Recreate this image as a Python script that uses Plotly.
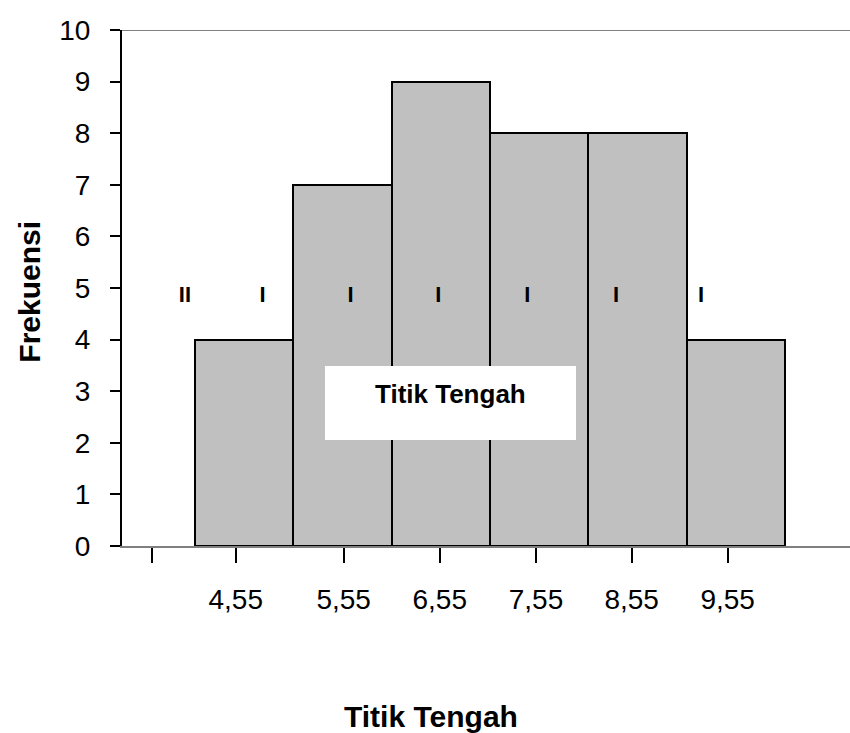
import plotly.graph_objects as go

# ---- data ----
bar_pos = [1, 2, 3, 4, 5, 6]
frekuensi = [4, 7, 9, 8, 8, 4]

tick_pos = [0.06, 0.914, 2.012, 2.989, 3.968, 4.941, 5.917]
tick_text = ["", "4,55", "5,55", "6,55", "7,55", "8,55", "9,55"]

mark_pos = [0.398, 1.188, 2.083, 2.974, 3.879, 4.781, 5.646]
mark_val = [4.83, 4.83, 4.83, 4.83, 4.83, 4.83, 4.83]
mark_text = ["II", "I", "I", "I", "I", "I", "I"]

y_ticks = [0, 1, 2, 3, 4, 5, 6, 7, 8, 9, 10]

FONT = "Liberation Sans, Arial, sans-serif"

fig = go.Figure()
fig.add_trace(go.Bar(
    x=bar_pos, y=frekuensi, width=1,
    marker=dict(color="#C0C0C0", line=dict(color="black", width=2)),
    hoverinfo="skip",
))
fig.add_trace(go.Scatter(
    x=mark_pos, y=mark_val, mode="text", text=mark_text,
    textfont=dict(family=FONT, size=22, color="black", weight="bold"),
    hoverinfo="skip",
))

fig.update_layout(
    width=850, height=733,
    margin=dict(l=122, r=0, t=30, b=187),
    paper_bgcolor="white", plot_bgcolor="white",
    showlegend=False, bargap=0,
    font=dict(family=FONT, color="black"),
    xaxis=dict(
        range=[-0.2424, 7.161], tickmode="array", tickvals=tick_pos, ticktext=tick_text,
        ticks="outside", ticklen=15, tickwidth=1.5, tickcolor="black",
        showline=True, linecolor="#808080", linewidth=2,
        showgrid=False, zeroline=False,
        tickfont=dict(size=28, family=FONT), ticklabelstandoff=12,
    ),
    yaxis=dict(
        range=[0, 10], tickmode="array", tickvals=y_ticks,
        ticks="outside", ticklen=10, tickwidth=1.5, tickcolor="black",
        showline=True, linecolor="black", linewidth=2,
        showgrid=False, zeroline=False,
        tickfont=dict(size=28, family=FONT), ticklabelstandoff=14,
    ),
    shapes=[
        dict(type="line", xref="paper", yref="y", x0=0, x1=1, y0=10, y1=10,
             line=dict(color="#808080", width=2)),
        dict(type="rect", xref="paper", yref="paper", x0=0.2788, x1=0.6236,
             y0=0.2054, y1=0.3488, fillcolor="white", line=dict(width=0), layer="above"),
    ],
    annotations=[
        dict(text="<b>Titik Tengah</b>", xref="paper", yref="paper", x=0.4512, y=0.2946,
             showarrow=False, font=dict(size=26, family=FONT), xanchor="center", yanchor="middle"),
        dict(text="<b>Titik Tengah</b>", xref="paper", yref="paper", x=0.425, y=-0.33,
             showarrow=False, font=dict(size=30, family=FONT), xanchor="center", yanchor="middle"),
        dict(text="<b>Frekuensi</b>", xref="paper", yref="paper", x=-0.127, y=0.492,
             showarrow=False, textangle=-90, font=dict(size=30, family=FONT),
             xanchor="center", yanchor="middle"),
    ],
)

fig.write_html("out.html")
